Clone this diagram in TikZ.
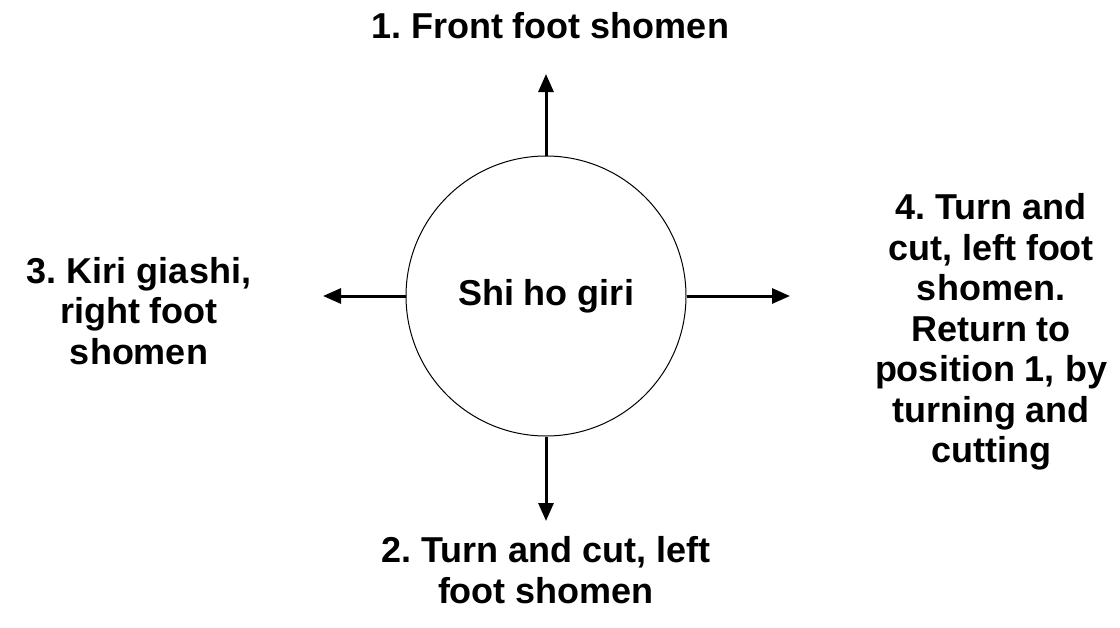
\documentclass[tikz,border=0pt]{standalone}
\usepackage{fontspec}
\setmainfont{Liberation Sans}
\usetikzlibrary{arrows.meta}
\frenchspacing
\begin{document}
\begin{tikzpicture}[x=1pt,y=-1pt,
  lbl/.style={font=\fontsize{36}{40.5}\selectfont\bfseries, align=center, inner sep=0pt},
  ring/.style={draw, line width=1pt, circle, minimum size=280pt, inner sep=0pt},
  arr/.style={line width=3pt, -{Triangle[length=18pt,width=15pt]}}]
\useasboundingbox (0,0) rectangle (1120,627);
\node[ring] (c) at (546,296) {};
\node[lbl] (t) at (546,296) {Shi ho giri};
\coordinate (n) at (546,74);
\coordinate (s) at (546,521);
\coordinate (w) at (323,296);
\coordinate (e) at (790,296);
\draw[arr] (c.north) -- (n);
\draw[arr] (c.south) -- (s);
\draw[arr] (c.west) -- (w);
\draw[arr] (c.east) -- (e);
\node[lbl] (l1) at (550,26) {1. Front foot shomen};
\node[lbl] (l2) at (546,570) {2. Turn and cut, left\\foot shomen};
\node[lbl] (l3) at (139,311) {3. Kiri giashi,\\right foot\\shomen};
\node[lbl] (l4) at (991,332) {4. Turn and\\cut, left foot\\shomen.\\Return to\\position 1, by\\turning and\\cutting};
\end{tikzpicture}
\end{document}
